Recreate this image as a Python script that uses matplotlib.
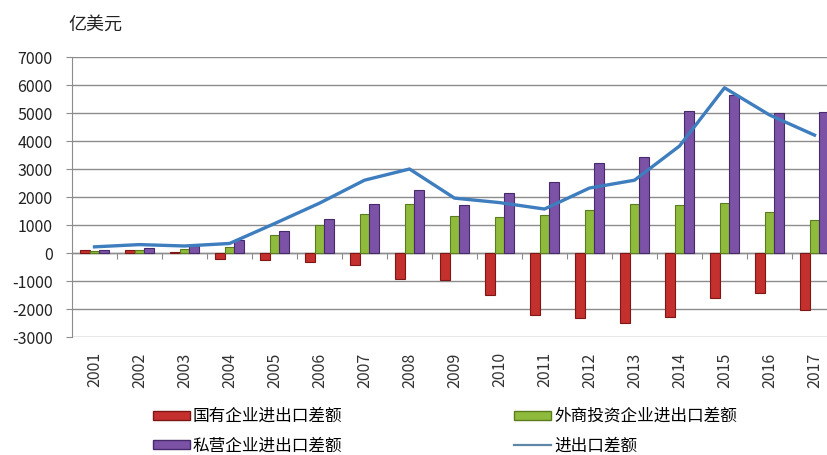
import numpy as np
import matplotlib
matplotlib.use("Agg")
import matplotlib.pyplot as plt
from matplotlib.patches import Patch
from matplotlib.lines import Line2D

plt.rcParams['font.family'] = ['Noto Sans CJK SC', 'DejaVu Sans']
plt.rcParams['axes.unicode_minus'] = False

# ----------
# DATA (亿美元)
# ----------
years = ['2001', '2002', '2003', '2004', '2005', '2006', '2007', '2008', '2009',
         '2010', '2011', '2012', '2013', '2014', '2015', '2016', '2017']
state_owned = [120, 110, 30, -210, -250, -320, -430, -930, -960,
               -1500, -2210, -2320, -2500, -2290, -1610, -1430, -2040]
foreign = [60, 100, 140, 200, 640, 1000, 1390, 1750, 1320,
           1280, 1360, 1540, 1750, 1710, 1790, 1460, 1180]
private = [100, 180, 250, 460, 790, 1210, 1750, 2250, 1710,
           2140, 2530, 3210, 3430, 5070, 5640, 5000, 5040]
total = [220, 300, 250, 340, 1050, 1780, 2600, 3000, 1960,
         1800, 1570, 2320, 2600, 3820, 5900, 4930, 4210]

names = ['国有企业进出口差额', '外商投资企业进出口差额', '私营企业进出口差额', '进出口差额']

# ----------
# STYLE
# ----------
red, red_edge = '#C4302E', '#7E1616'
green, green_edge = '#8FBB3C', '#5A7C1E'
purple, purple_edge = '#7B52A6', '#462A6A'
line_color = '#3E7DBE'
grid_color = '#8C8C8C'

W, H = 828, 455
fig = plt.figure(figsize=(W / 100, H / 100), dpi=100)
ax = fig.add_axes([72 / W, 1 - 337 / H, 1 - 72 / W, (337 - 57) / H])

x = np.arange(len(years))
bw = 0.22
ax.bar(x - bw, state_owned, bw, color=red, edgecolor=red_edge, linewidth=0.8, zorder=3)
ax.bar(x, foreign, bw, color=green, edgecolor=green_edge, linewidth=0.8, zorder=3)
ax.bar(x + bw, private, bw, color=purple, edgecolor=purple_edge, linewidth=0.8, zorder=3)
ax.plot(x, total, color=line_color, linewidth=2.4, zorder=4, solid_joinstyle='round')

ax.set_ylim(-3000, 7000)
ax.set_xlim(-0.5, (W - 72) / 45 - 0.5)
ax.set_yticks(np.arange(-3000, 7001, 1000))
ax.yaxis.grid(True, color=grid_color, linewidth=1.0)
ax.set_axisbelow(True)

for s in ['top', 'right', 'bottom']:
    ax.spines[s].set_visible(False)
ax.spines['left'].set_color(grid_color)

ax.tick_params(axis='y', direction='out', length=4, color=grid_color,
               labelsize=11.5, pad=10, labelcolor='#222222')
ax.set_xticks(x)
ax.set_xticklabels(years, rotation=90, fontsize=11.5, color='#333333')
ax.tick_params(axis='x', length=0, pad=11)

# zero axis with category separators
ax.axhline(0, color=grid_color, linewidth=1.0, zorder=2)
zero_frac = 3000 / 10000
sec = ax.secondary_xaxis(zero_frac)
sec.set_xticks(x[:-1] + 0.5)
sec.set_xticklabels([])
sec.spines['bottom'].set_visible(False)
sec.spines['top'].set_visible(False)
sec.tick_params(axis='x', direction='out', length=4, color=grid_color, top=False, bottom=True)

fig.text(68 / W, 1 - 25 / H, '亿美元', fontsize=13, va='center', ha='left', color='#222222')

handles = [
    Patch(facecolor=red, edgecolor=red_edge),
    Patch(facecolor=purple, edgecolor=purple_edge),
    Patch(facecolor=green, edgecolor=green_edge),
    Line2D([], [], color='#5E88A8', linewidth=1.6),
]
labels = [names[0], names[2], names[1], names[3]]
fig.legend(handles, labels, loc='upper left', bbox_to_anchor=(153 / W, 1 - 408 / H),
           ncol=2, frameon=False, fontsize=12, handlelength=2.2, handleheight=0.45,
           handletextpad=0.2, columnspacing=10.3, labelspacing=0.75,
           borderpad=0, borderaxespad=0)

fig.savefig('out.png', dpi=100)
